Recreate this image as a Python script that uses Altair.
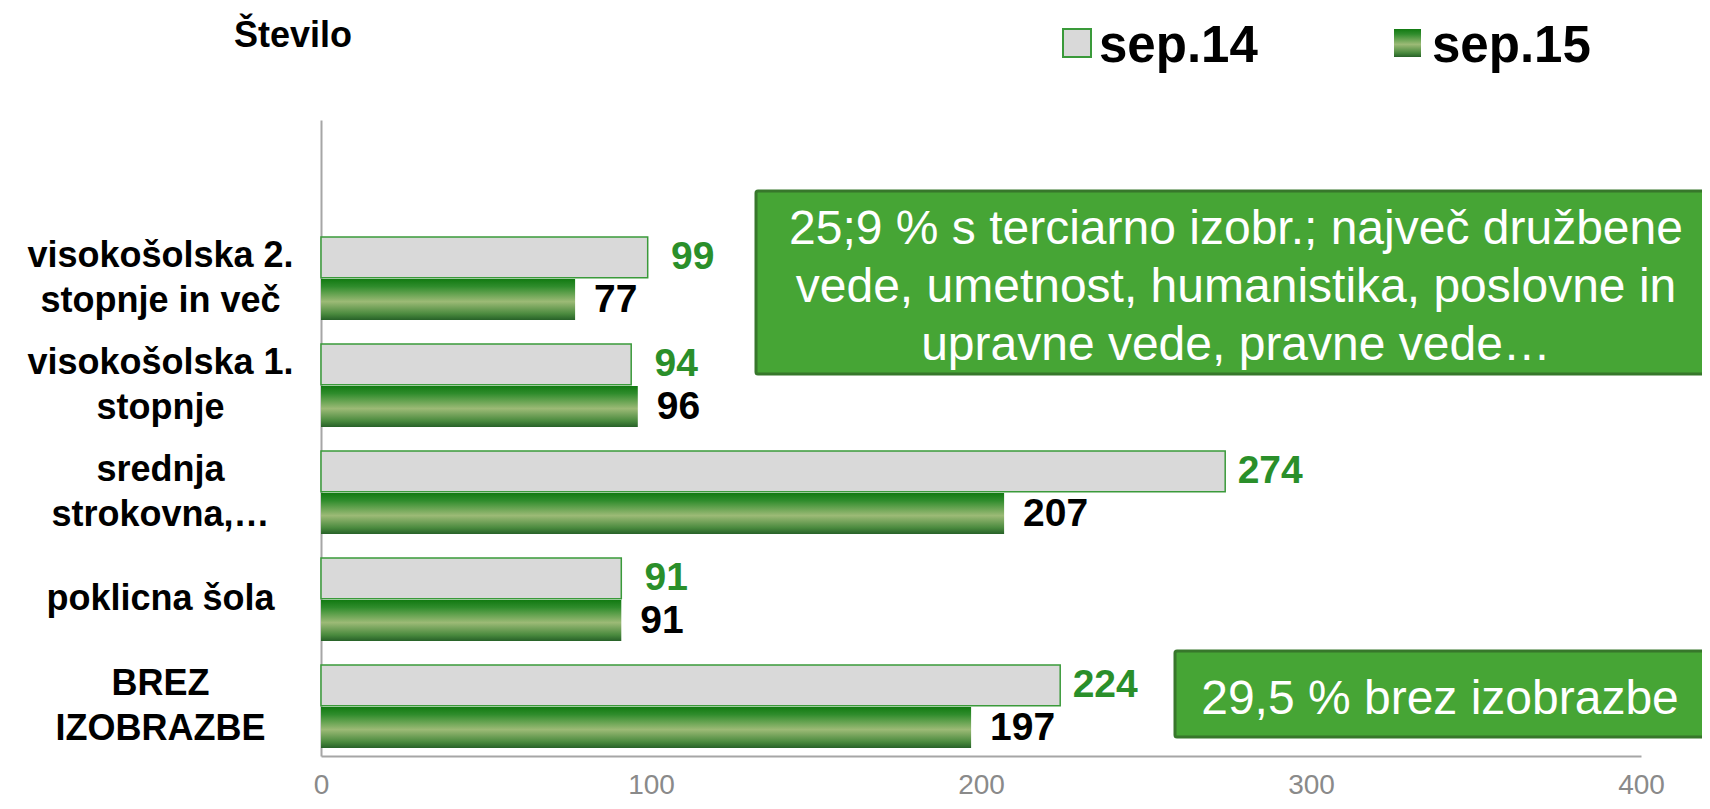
import altair as alt
import pandas as pd

categories = [
    "visokošolska 2.\nstopnje in več",
    "visokošolska 1.\nstopnje",
    "srednja\nstrokovna,…",
    "poklicna šola",
    "BREZ\nIZOBRAZBE",
]
series_names = ["sep.14", "sep.15"]
sep14 = [99, 94, 274, 91, 224]
sep15 = [77, 96, 207, 91, 197]
x_ticks = [0, 100, 200, 300, 400]
title_text = "Število"
box1_text = "25;9 % s terciarno izobr.; največ družbene\nvede, umetnost, humanistika, poslovne in\nupravne vede, pravne vede…"
box2_text = "29,5 % brez izobrazbe"

rows = []
for c, a, b in zip(categories, sep14, sep15):
    rows.append({"cat": c, "series": series_names[0], "value": a})
    rows.append({"cat": c, "series": series_names[1], "value": b})
df = pd.DataFrame(rows)

GREEN_TXT = "#2A8F2A"
gradient = alt.Gradient(
    gradient="linear", x1=0, y1=0, x2=0, y2=1,
    stops=[
        alt.GradientStop(color="#127A12", offset=0),
        alt.GradientStop(color="#2F8C2C", offset=0.18),
        alt.GradientStop(color="#9CBA76", offset=0.55),
        alt.GradientStop(color="#4A8A3E", offset=0.85),
        alt.GradientStop(color="#276128", offset=1),
    ],
)

y_enc = alt.Y(
    "cat:N", sort=categories,
    scale=alt.Scale(domain=categories, paddingInner=0.224, paddingOuter=0.584, align=0.936),
    axis=alt.Axis(
        title=None, labelExpr="split(datum.label, '\\n')", labelAlign="center",
        labelPadding=161, ticks=False, labelFontSize=36, labelFont="Liberation Sans",
        labelFontWeight="bold", labelColor="black", labelLineHeight=45, labelLimit=400,
        labelOffset={"condition": {"test": "indexof(datum.label, '\\n') < 0", "value": 0}, "value": -22},
        domainColor="#A6A6A6", domainWidth=2,
    ),
)
yoff = alt.YOffset("series:N", scale=alt.Scale(domain=series_names, paddingInner=0.03, paddingOuter=0))
x_enc = alt.X(
    "value:Q", scale=alt.Scale(domain=[0, 400], nice=False),
    axis=alt.Axis(
        values=x_ticks, title=None, grid=False, ticks=False, labelPadding=37,
        labelBaseline="alphabetic", labelFontSize=28, labelColor="#8A8A8A",
        labelFont="Liberation Sans", labelFlush=False,
        domainColor="#A6A6A6", domainWidth=2,
    ),
)

base = alt.Chart(df)
bars14 = base.transform_filter(alt.datum.series == series_names[0]).mark_bar(
    fill="#D9D9D9", stroke="#3A9A3A", strokeWidth=1.5
).encode(x=x_enc, y=y_enc, yOffset=yoff)
bars15 = base.transform_filter(alt.datum.series == series_names[1]).mark_bar(
    color=gradient
).encode(x=x_enc, y=y_enc, yOffset=yoff)
lab14 = base.transform_filter(alt.datum.series == series_names[0]).mark_text(
    align="center", baseline="middle", dx=45, fontSize=39, fontWeight="bold",
    font="Liberation Sans", color=GREEN_TXT
).encode(x=x_enc, y=y_enc, yOffset=yoff, text="value:Q")
lab15 = base.transform_filter(alt.datum.series == series_names[1]).mark_text(
    align="left", baseline="middle", dx=19, fontSize=39, fontWeight="bold",
    font="Liberation Sans", color="black"
).encode(x=x_enc, y=y_enc, yOffset=yoff, text="value:Q")

one = pd.DataFrame({"t": [box1_text]})
two = pd.DataFrame({"t": [box2_text]})
box1 = alt.Chart(one).mark_rect(fill="#46A535", stroke="#37772B", strokeWidth=3, cornerRadius=2).encode(
    x=alt.value(435), x2=alt.value(1400), y=alt.value(71), y2=alt.value(254))
box1t = alt.Chart(one).mark_text(
    align="center", baseline="alphabetic", lineBreak="\n", lineHeight=58, fontSize=48,
    font="Liberation Sans", color="white"
).encode(x=alt.value(915), y=alt.value(124), text="t:N")
box2 = alt.Chart(two).mark_rect(fill="#46A535", stroke="#37772B", strokeWidth=3, cornerRadius=2).encode(
    x=alt.value(854), x2=alt.value(1384), y=alt.value(531), y2=alt.value(617))
box2t = alt.Chart(two).mark_text(
    align="center", baseline="alphabetic", fontSize=48, font="Liberation Sans", color="white"
).encode(x=alt.value(1119), y=alt.value(594), text="t:N")

leg14 = alt.Chart(pd.DataFrame({"s": [series_names[0]]})).mark_rect(
    fill="#D9D9D9", stroke="#3A9A3A", strokeWidth=2).encode(
    x=alt.value(742), x2=alt.value(770), y=alt.value(-91), y2=alt.value(-63))
leg15 = alt.Chart(pd.DataFrame({"s": [series_names[1]]})).mark_rect(color=gradient).encode(
    x=alt.value(1073), x2=alt.value(1100), y=alt.value(-91), y2=alt.value(-63))
leg14t = alt.Chart(pd.DataFrame({"s": [series_names[0]]})).mark_text(
    align="left", baseline="alphabetic", fontSize=51, fontWeight="bold", font="Liberation Sans", color="black"
).encode(x=alt.value(778), y=alt.value(-58), text="s:N")
leg15t = alt.Chart(pd.DataFrame({"s": [series_names[1]]})).mark_text(
    align="left", baseline="alphabetic", fontSize=51, fontWeight="bold", font="Liberation Sans", color="black"
).encode(x=alt.value(1111), y=alt.value(-58), text="s:N")
title = alt.Chart(pd.DataFrame({"t": [title_text]})).mark_text(
    align="left", baseline="alphabetic", fontSize=36, fontWeight="bold", font="Liberation Sans", color="black"
).encode(x=alt.value(-87), y=alt.value(-73), text="t:N")

chart = alt.layer(
    bars14, bars15, lab14, lab15, box1, box1t, box2, box2t,
    leg14, leg15, leg14t, leg15t, title
).properties(
    width=1320, height=636,
    background="white",
    autosize=alt.AutoSizeParams(type="none"),
    padding={"left": 313, "top": 112, "right": 61, "bottom": 45},
).configure_view(stroke=None)

chart.save("out.html", embed_options={"renderer": "svg", "actions": False})
